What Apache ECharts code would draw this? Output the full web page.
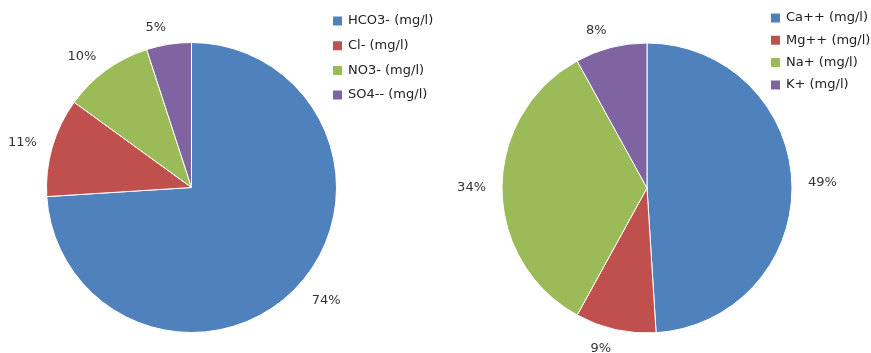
<!DOCTYPE html>
<html>
<head>
<meta charset="utf-8">
<title>Major ions (mg/l)</title>
<script src="https://cdn.jsdelivr.net/npm/echarts@6/dist/echarts.min.js"></script>
<style>
  html, body { margin: 0; padding: 0; background: #fff; }
  #chart { width: 871px; height: 353px; }
</style>
</head>
<body>
<div id="chart"></div>
<script>
// Anion shares (%)
const anionNames = ['HCO3- (mg/l)', 'Cl- (mg/l)', 'NO3- (mg/l)', 'SO4-- (mg/l)'];
const anionShares = [74, 11, 10, 5];

// Cation shares (%)
const cationNames = ['Ca++ (mg/l)', 'Mg++ (mg/l)', 'Na+ (mg/l)', 'K+ (mg/l)'];
const cationShares = [49, 9, 34, 8];

// Per-slice distance of the percentage label beyond the rim (px)
const anionLabelGap = [20, 16, 17, 17];
const cationLabelGap = [16, 20, 16, 17];

const palette = ['#4F81BD', '#C0504D', '#9BBB59', '#8064A2'];
const FONT = '"DejaVu Sans", sans-serif';

function toItems(names, values, gaps) {
  return names.map((n, i) => ({ name: n, value: values[i], labelLine: { length: gaps[i] } }));
}

function pieSeries(name, names, values, gaps, center) {
  return {
    type: 'pie',
    name: name,
    center: center,
    radius: 145,
    startAngle: 90,
    clockwise: true,
    avoidLabelOverlap: false,
    animation: false,
    silent: true,
    itemStyle: { borderColor: '#ffffff', borderWidth: 1 },
    label: {
      show: true,
      position: 'outside',
      distanceToLabelLine: 0,
      formatter: p => Math.round(p.percent) + '%',
      fontFamily: FONT,
      fontSize: 13,
      color: '#333333'
    },
    labelLine: { show: false, length: 17, length2: 0 },
    data: toItems(names, values, gaps)
  };
}

const legendText = { fontFamily: FONT, fontSize: 13, color: '#222222', lineHeight: 16 };

function legendBlock(names, left, top, gap) {
  return {
    data: names.map(n => ({ name: n, icon: 'rect' })),
    orient: 'vertical',
    left: left,
    top: top,
    padding: 0,
    itemWidth: 11,
    itemHeight: 11,
    itemGap: gap,
    textStyle: legendText,
    selectedMode: false
  };
}

const chart = echarts.init(document.getElementById('chart'), null, { renderer: 'canvas' });
chart.setOption({
  backgroundColor: '#ffffff',
  color: palette,
  animation: false,
  legend: [
    legendBlock(anionNames, 331, 13, 8.7),
    legendBlock(cationNames, 769, 10, 6.3)
  ],
  series: [
    pieSeries('Anions', anionNames, anionShares, anionLabelGap, [191.5, 187.5]),
    pieSeries('Cations', cationNames, cationShares, cationLabelGap, [647, 188])
  ]
});
</script>
</body>
</html>
